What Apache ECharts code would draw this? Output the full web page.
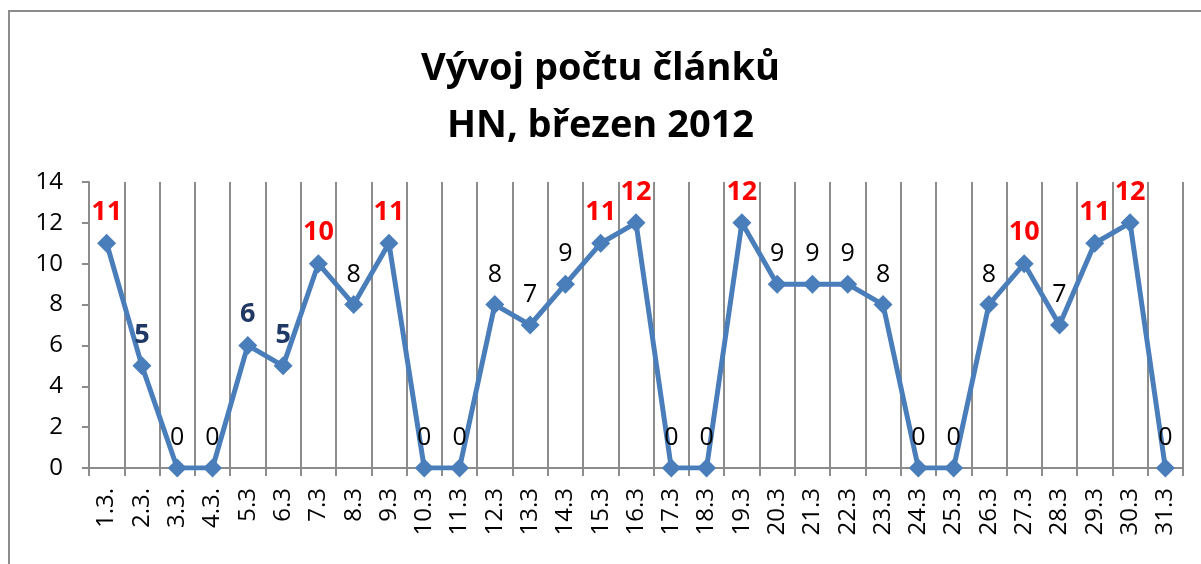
<!DOCTYPE html>
<html>
<head>
<meta charset="utf-8">
<script src="https://cdn.jsdelivr.net/npm/echarts@6/dist/echarts.min.js"></script>
<style>
  html, body { margin: 0; padding: 0; background: #fff; }
  #chart { width: 1201px; height: 564px; }
</style>
</head>
<body>
<div id="chart"></div>
<script>
// data
const days = ['1.3.', '2.3.', '3.3.', '4.3.', '5.3', '6.3', '7.3', '8.3', '9.3', '10.3',
  '11.3', '12.3', '13.3', '14.3', '15.3', '16.3', '17.3', '18.3', '19.3', '20.3',
  '21.3', '22.3', '23.3', '24.3', '25.3', '26.3', '27.3', '28.3', '29.3', '30.3', '31.3']
const articles = [11, 5, 0, 0, 6, 5, 10, 8, 11, 0,
  0, 8, 7, 9, 11, 12, 0, 0, 12, 9,
  9, 9, 8, 0, 0, 8, 10, 7, 11, 12, 0]
const yTicks = [0, 2, 4, 6, 8, 10, 12, 14]

const font = 'Open Sans'

// label look depends on value (red = high, navy = middle)
function labelFor (v) {
  if (v >= 10) return { color: '#ff0000', fontWeight: 'bold', fontSize: 27 }
  if (v >= 5 && v <= 6) return { color: '#1f3864', fontWeight: 'bold', fontSize: 27 }
  return { color: '#000', fontWeight: 'normal', fontSize: 25 }
}

let myChart = echarts.init(document.getElementById('chart'))
let option = {
  animation: false,
  textStyle: { fontFamily: font },
  title: {
    text: 'Vývoj počtu článků\nHN, březen 2012',
    left: 'center',
    top: 36,
    textStyle: { fontSize: 38, fontWeight: 'bold', color: '#000', lineHeight: 57, fontFamily: font }
  },
  // chart frame (only top and left edges are visible in the picture)
  graphic: [{
    type: 'polyline',
    shape: { points: [[9, 564], [9, 11], [1201, 11]] },
    style: { fill: 'none', stroke: '#8c8c8c', lineWidth: 2 },
    silent: true
  }],
  grid: { left: 89, right: 18, top: 182, bottom: 96 },
  xAxis: {
    type: 'category',
    data: days,
    boundaryGap: true,
    axisLine: { lineStyle: { color: '#8c8c8c', width: 2 } },
    axisTick: { show: true, length: 8, interval: 0, lineStyle: { color: '#8c8c8c', width: 2 } },
    splitLine: { show: true, interval: 0, lineStyle: { color: '#8c8c8c', width: 2 } },
    axisLabel: { interval: 0, rotate: 90, fontSize: 24, color: '#000', margin: 20, fontFamily: font }
  },
  yAxis: {
    type: 'value',
    min: yTicks[0],
    max: yTicks[yTicks.length - 1],
    interval: 2,
    axisLine: { show: true, lineStyle: { color: '#8c8c8c', width: 2 } },
    axisTick: { show: true, length: 7, lineStyle: { color: '#8c8c8c', width: 2 } },
    splitLine: { show: false },
    axisLabel: { fontSize: 24, color: '#000', margin: 26, fontFamily: font }
  },
  series: [{
    type: 'line',
    data: articles.map(v => ({ value: v, label: labelFor(v) })),
    symbol: 'diamond',
    symbolSize: 19,
    itemStyle: { color: '#4a7ebb' },
    lineStyle: { color: '#4a7ebb', width: 5 },
    label: { show: true, position: 'top', distance: 8, fontFamily: font }
  }]
}
myChart.setOption(option)
</script>
</body>
</html>
